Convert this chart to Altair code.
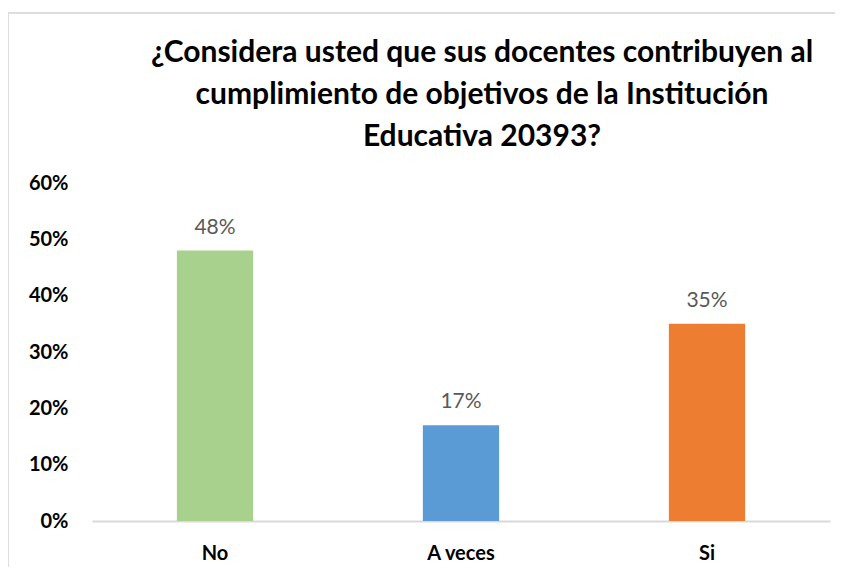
import altair as alt
import pandas as pd

categories = ["No", "A veces", "Si"]
values = [0.48, 0.17, 0.35]
labels = ["48%", "17%", "35%"]
colors = ["#A9D18E", "#5B9BD5", "#ED7D31"]
title_lines = [
    "¿Considera usted que sus docentes contribuyen al",
    "cumplimiento de objetivos de la Institución",
    "Educativa 20393?",
]

df = pd.DataFrame({"cat": categories, "val": values, "lab": labels, "col": colors})

FONT = "Lato"

xenc = alt.X("cat:N", sort=categories, title=None,
             scale=alt.Scale(paddingInner=0.69, paddingOuter=0.345),
             axis=alt.Axis(labelAngle=0, labelFont=FONT, labelFontSize=20, labelFontWeight="bold",
                           labelColor="#000000", labelPadding=22, ticks=False,
                           domainColor="#D9D9D9", domainWidth=2))
yenc = alt.Y("val:Q", title=None,
             scale=alt.Scale(domain=[0, 0.6]),
             axis=alt.Axis(format=".0%", values=[0, 0.1, 0.2, 0.3, 0.4, 0.5, 0.6], grid=False,
                           domain=False, ticks=False, labelFont=FONT, labelFontSize=20,
                           labelFontWeight="bold", labelColor="#000000", labelPadding=24))

border = alt.Chart(df).mark_rect(fill="transparent", stroke="#D9D9D9", strokeWidth=1).encode(
    x=alt.value(-84), x2=alt.value(746), y=alt.value(-170), y2=alt.value(420)
)

bars = alt.Chart(df).mark_bar().encode(
    x=xenc, y=yenc, color=alt.Color("col:N", scale=None)
)

text = alt.Chart(df).mark_text(dy=-23, font=FONT, fontSize=21, color="#595959").encode(
    x=alt.X("cat:N", sort=categories), y="val:Q", text="lab:N"
)

chart = alt.layer(border, bars, text).properties(
    width=738, height=338,
    autosize=alt.AutoSizeParams(type="none"),
    padding={"left": 84, "top": 175, "right": 5, "bottom": 46},
    title=alt.TitleParams(text=title_lines, font=FONT, fontSize=30, fontWeight="bold",
                          color="#000000", lineHeight=42, anchor="middle", dx=21, offset=0, dy=139),
).configure_view(stroke=None)

chart.save("out.html", embed_options={"renderer": "svg", "actions": False})
